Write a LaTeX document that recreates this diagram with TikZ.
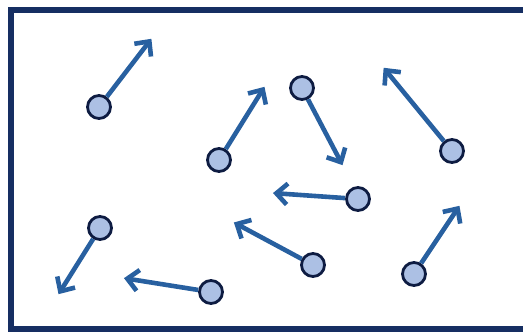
\documentclass[tikz,border=0pt]{standalone}
\usetikzlibrary{arrows.meta}
\definecolor{frame}{RGB}{22,46,98}
\definecolor{rim}{RGB}{14,28,66}
\definecolor{ballfill}{RGB}{172,192,228}
\definecolor{shaft}{RGB}{40,96,160}
\tikzset{
  ball/.style={circle, draw=rim, fill=ballfill, line width=2.8pt, minimum size=23pt, inner sep=0pt},
  vel/.style={draw=shaft, line width=4.6pt,
    -{Straight Barb[length=11pt, width=21pt, line width=4.6pt]}, shorten >=1pt}
}
\begin{document}
\begin{tikzpicture}[x=1pt, y=-1pt]
  \useasboundingbox (0,0) rectangle (523,332);
  % container wall (open beyond the right edge)
  \draw[frame, line width=6pt] (540,10) -- (11,10) -- (11,329) -- (540,329);

  % particles
  \node[ball] (p1) at (99,107) {};
  \node[ball] (p2) at (219,160) {};
  \node[ball] (p3) at (302,88) {};
  \node[ball] (p4) at (358,199) {};
  \node[ball] (p5) at (313,265) {};
  \node[ball] (p6) at (414,274) {};
  \node[ball] (p7) at (452,151) {};
  \node[ball] (p8) at (100,228) {};
  \node[ball] (p9) at (211,292) {};

  % velocity tips
  \coordinate (v1) at (152,38);
  \coordinate (v2) at (265,86);
  \coordinate (v3) at (343,166);
  \coordinate (v4) at (272,193);
  \coordinate (v5) at (233,222);
  \coordinate (v6) at (460,205);
  \coordinate (v7) at (383,67);
  \coordinate (v8) at (58,295);
  \coordinate (v9) at (123,278);

  \foreach \i in {1,...,9} {
    \draw[vel] (p\i) -- (v\i);
  }
\end{tikzpicture}
\end{document}
